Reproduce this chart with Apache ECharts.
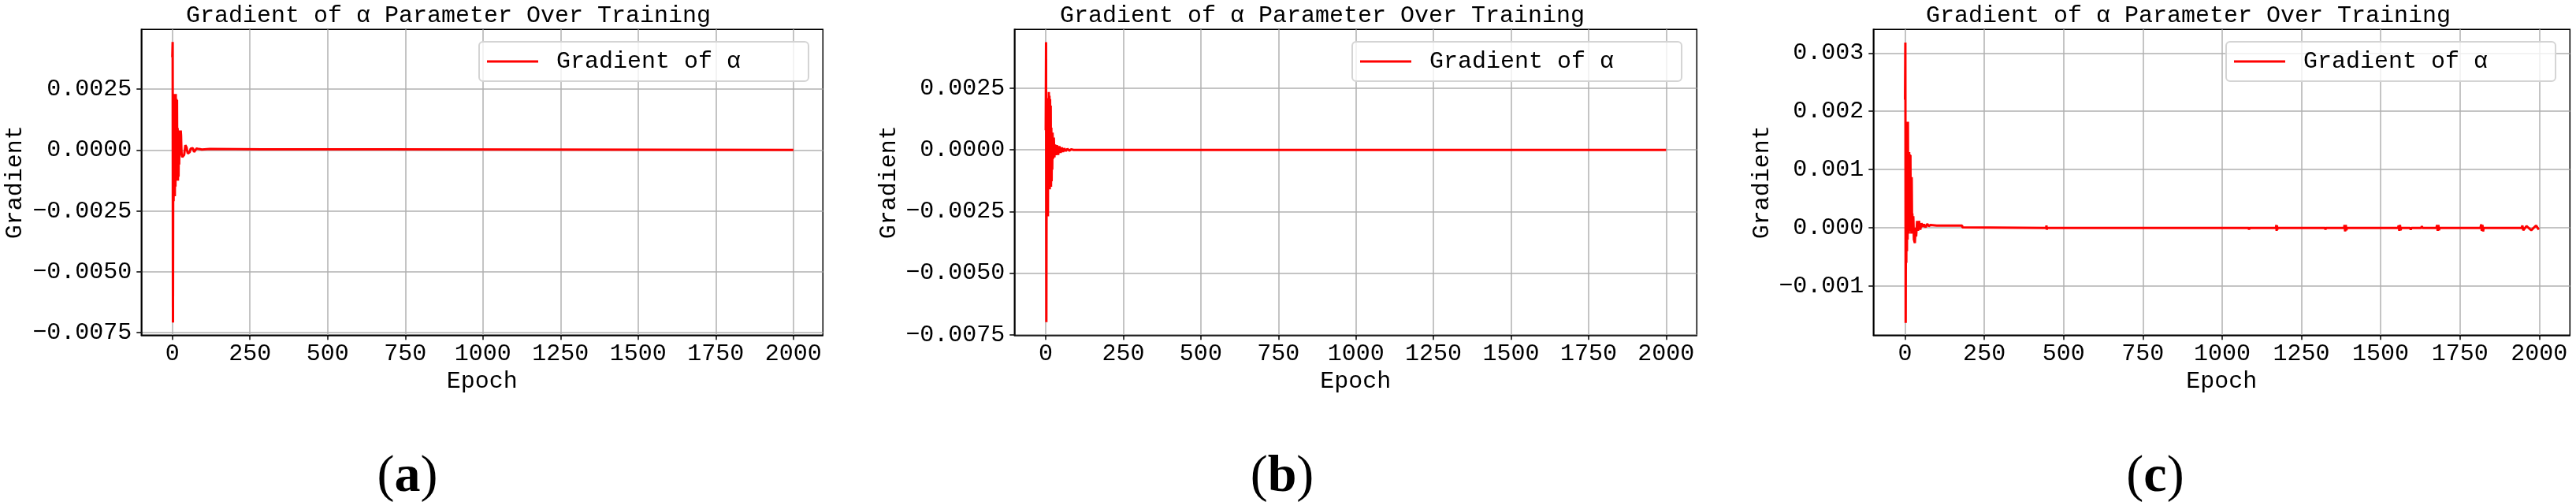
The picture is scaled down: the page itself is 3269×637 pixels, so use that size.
<!DOCTYPE html>
<html>
<head>
<meta charset="utf-8">
<script src="https://cdn.jsdelivr.net/npm/echarts@6/dist/echarts.min.js"></script>
<style>
  html, body { margin: 0; padding: 0; background: #fff; }
  #chart { width: 3269px; height: 637px; }
</style>
</head>
<body>
<div id="chart"></div>
<script>
// panel (a)
const epochsA = [0, 1, 2, 3, 4, 5, 6, 7, 8, 9, 10, 11, 12, 13, 14, 15, 16, 17, 18, 19, 20, 21, 22, 23, 24, 25, 26, 27, 28, 29, 30, 32, 34, 36, 38, 40, 42, 44, 46, 48, 50, 53, 56, 59, 62, 66, 70, 74, 78, 82, 86, 90, 95, 100, 120, 290, 680, 681, 2000];
const gradA = [0.0038, 0.00443, -0.00708, 0.0008, -0.0021, 0.0012, -0.0016, 0.0023, -0.0019, 0.0019, -0.0015, 0.0023, -0.0011, 0.0021, -0.0012, 0.00206, -0.00126, 0.0009, -0.00126, 0.0004, -0.0011, 0.0008, -0.0006, 0.0008, 0.00075, 0.0002, -0.0001, 0.0008, 0.0006, 0.0001, -0.0002, -0.00029, -0.00025, -0.00028, -0.0002, 0.0, 0.0002, 0.00018, 0.0001, -0.00005, -0.00015, -0.00015, -0.00008, 0.00005, 0.0001, 0.00008, -0.00008, -0.00006, 0.00006, 0.00008, 0.00004, -0.00002, 0.00002, 0.00004, 0.00004, 0.00003, 0.00003, 0.0, 0.0];

// panel (b)
const epochsB = [0, 1, 2, 3, 4, 5, 6, 7, 8, 9, 10, 11, 12, 13, 14, 15, 16, 17, 18, 19, 20, 21, 22, 24, 26, 28, 30, 33, 36, 40, 44, 48, 52, 56, 60, 65, 70, 76, 82, 90, 1985, 1987, 1988, 2000];
const gradB = [0.0008, 0.00437, -0.00699, 0.0006, -0.0019, 0.0013, -0.0015, -0.0027, 0.0021, -0.0012, 0.00235, -0.0014, 0.0022, -0.0016, 0.00206, -0.0013, 0.0018, -0.0015, 0.0009, -0.00127, 0.0007, -0.0008, 0.0007, -0.00036, 0.0005, -0.0003, 0.00022, -0.00021, 0.00019, -0.0002, 0.00015, -0.00012, 0.0001, -0.00008, 0.00006, -0.00005, 0.00004, -0.00003, 0.00002, 0.0, 0.0, -0.00006, 0.0, 0.0];

// panel (c)
const epochsC = [0, 1, 2, 3, 4, 5, 6, 7, 8, 9, 10, 11, 12, 13, 14, 15, 16, 17, 18, 19, 20, 21, 22, 23, 24, 26, 28, 31, 33, 35, 38, 41, 44, 48, 52, 56, 60, 65, 70, 75, 80, 100, 180, 181,
  445, 446, 447, 448, 1084, 1085, 1086, 1170, 1171, 1172, 1173, 1174, 1175, 1325, 1326, 1327,
  1385, 1386, 1388, 1390, 1392, 1394, 1555, 1557, 1559, 1561, 1563, 1565, 1593, 1595, 1597, 1628, 1630, 1632,
  1676, 1678, 1680, 1682, 1684, 1686, 1815, 1817, 1819, 1821, 1823, 1825, 1945, 1947, 1950, 1960, 1975, 1990, 1999];
const gradC = [0.0022, 0.00318, -0.00163, 0.0011, -0.0006, 0.00182, -0.0004, 0.0015, -0.0002, 0.00182, 0.0003, 0.0013, -0.0001, 0.0013, 0.0001, 0.00126, -0.00005, 0.00125, 0.0, 0.00087, -0.0001, 0.00087, 0.0002, 0.00025, -0.0001, 0.0002, -0.0002, -0.00026, 0.0, -0.00015, 0.00012, -0.00005, 0.00012, -0.00003, 0.00008, 0.00002, 0.00006, 0.00001, 0.00007, 0.00003, 0.00005, 0.00004, 0.00004, 0.00001,
  0.0, 0.00004, -0.00003, 0.0, 0.0, -0.00003, 0.0, 0.0, 0.00005, -0.00005, 0.00004, -0.00003, 0.0, 0.0, -0.00003, 0.0,
  0.0, 0.00005, -0.00006, 0.00005, -0.00004, 0.0, 0.0, 0.00004, -0.00005, 0.00005, -0.00004, 0.0, 0.0, -0.00003, 0.0, 0.0, 0.00003, 0.0,
  0.0, 0.00005, -0.00005, 0.00005, -0.00004, 0.0, 0.0, 0.00006, -0.00005, 0.00005, -0.00006, 0.0, 0.0, 0.00004, -0.00004, 0.00003, -0.00004, 0.00004, -0.00003];

const xTicks = [0, 250, 500, 750, 1000, 1250, 1500, 1750, 2000];
const yTicksAB = [-0.0075, -0.005, -0.0025, 0, 0.0025];
const yTicksC = [-0.001, 0, 0.001, 0.002, 0.003];

const seriesName = "Gradient of α";
const titleText = "Gradient of α Parameter Over Training";
const mono = "'Liberation Mono', 'Courier New', monospace";

// layout per panel (px)
const panels = [
  { left: 179.3, width: 865, xMin: -100, xMax: 2095, yMin: -0.0076, yMax: 0.00495, ticks: yTicksAB, digits: 4, titleX: 236, legendX: 608, nameGap: 145, tag: "a", tagX: 517, epochs: epochsA, grad: gradA },
  { left: 1287.3, width: 866, xMin: -101, xMax: 2099, yMin: -0.00752, yMax: 0.00489, ticks: yTicksAB, digits: 4, titleX: 1345, legendX: 1716, nameGap: 144, tag: "b", tagX: 1627, epochs: epochsB, grad: gradB },
  { left: 2377.3, width: 884, xMin: -100, xMax: 2097, yMin: -0.00184, yMax: 0.003405, ticks: yTicksC, digits: 3, titleX: 2444, legendX: 2825, nameGap: 126, tag: "c", tagX: 2735, epochs: epochsC, grad: gradC },
];

const fmt = (v, d) => {
  const s = Math.abs(v).toFixed(d);
  return v < 0 ? "\u2212" + s : s;
};

const chart = echarts.init(document.getElementById("chart"));

const option = {
  animation: false,
  backgroundColor: "#fff",
  title: panels.map((p) => ({
    text: titleText,
    left: p.titleX,
    top: 5,
    padding: 0,
    textStyle: { fontFamily: mono, fontSize: 30, fontWeight: "normal", color: "#000" },
  })),
  legend: panels.map((p) => ({
    data: [seriesName],
    left: p.legendX,
    top: 53,
    orient: "horizontal",
    selectedMode: false,
    icon: "rect",
    itemWidth: 65,
    itemHeight: 3,
    padding: [10, 86, 10, 10],
    backgroundColor: "rgba(255,255,255,0.8)",
    borderColor: "#d4d4d4",
    borderWidth: 2,
    borderRadius: 5,
    textStyle: { fontFamily: mono, fontSize: 30, color: "#000", padding: [0, 0, 0, 18] },
  })),
  grid: panels.map((p) => ({
    left: p.left,
    top: 37.3,
    width: p.width,
    height: 388,
    show: true,
    borderColor: "#000",
    borderWidth: 1.5,
    containLabel: false,
    outerBoundsMode: "none",
  })),
  xAxis: panels.map((p, i) => ({
    type: "value",
    gridIndex: i,
    min: p.xMin,
    max: p.xMax,
    name: "Epoch",
    nameLocation: "middle",
    nameGap: 33,
    nameTextStyle: { fontFamily: mono, fontSize: 30, color: "#000" },
    axisLine: { show: true, onZero: false, lineStyle: { color: "#000", width: 1.5 } },
    axisTick: { show: true, length: 6, lineStyle: { color: "#000", width: 1.5 }, customValues: xTicks },
    axisLabel: { fontFamily: mono, fontSize: 30, color: "#000", margin: 9, customValues: xTicks, formatter: (v) => String(v) },
    splitLine: { show: true, lineStyle: { color: "#b0b0b0", width: 1.5 } },
  })),
  yAxis: panels.map((p, i) => ({
    type: "value",
    gridIndex: i,
    min: p.yMin,
    max: p.yMax,
    name: "Gradient",
    nameLocation: "middle",
    nameRotate: 90,
    nameGap: p.nameGap,
    nameTextStyle: { fontFamily: mono, fontSize: 30, color: "#000" },
    axisLine: { show: true, onZero: false, lineStyle: { color: "#000", width: 1.5 } },
    axisTick: { show: true, length: 6, lineStyle: { color: "#000", width: 1.5 }, customValues: p.ticks },
    axisLabel: { fontFamily: mono, fontSize: 30, color: "#000", margin: 12, customValues: p.ticks, formatter: (v) => fmt(v, p.digits) },
    splitLine: { show: true, lineStyle: { color: "#b0b0b0", width: 1.5 } },
  })),
  series: panels.map((p, i) => ({
    name: seriesName,
    type: "line",
    xAxisIndex: i,
    yAxisIndex: i,
    showSymbol: false,
    symbol: "none",
    lineStyle: { color: "#ff0000", width: 3 },
    itemStyle: { color: "#ff0000" },
    data: p.epochs.map((e, k) => [e, p.grad[k]]),
  })),
  graphic: panels.map((p) => ({
    type: "text",
    x: p.tagX,
    y: 606,
    style: {
      text: "{n|(}{b|" + p.tag + "}{n|)}",
      align: "center",
      verticalAlign: "middle",
      rich: {
        n: { fontFamily: "'Liberation Serif', serif", fontSize: 66, fill: "#000" },
        b: { fontFamily: "'Liberation Serif', serif", fontSize: 66, fontWeight: "bold", fill: "#000" },
      },
    },
  })),
};

chart.setOption(option);
</script>
</body>
</html>
